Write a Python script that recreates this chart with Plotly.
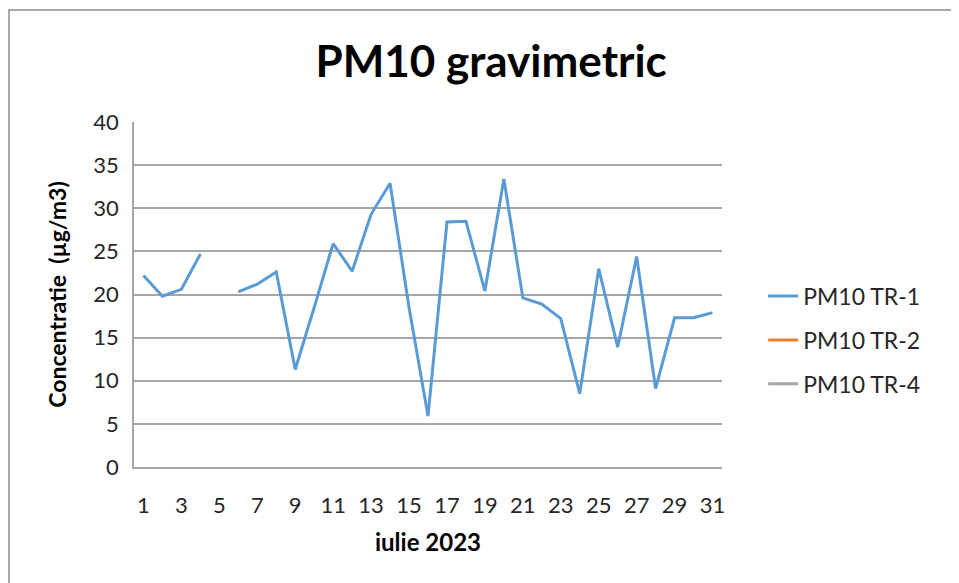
import plotly.graph_objects as go

# Days of July 2023
days = list(range(1, 32))

# PM10 TR-1 daily concentrations (µg/m3); day 5 missing
pm10_tr1 = [22.2, 19.8, 20.6, 24.7, None, 20.3, 21.2, 22.6, 11.3, 18.5,
            25.9, 22.7, 29.3, 32.9, 18.5, 5.9, 28.4, 28.5, 20.4, 33.4,
            19.6, 18.9, 17.2, 8.5, 23.0, 13.9, 24.4, 9.1, 17.3, 17.3, 17.9]

# TR-2 and TR-4 have no data this month (legend entries only)
pm10_tr2 = [None] * 31
pm10_tr4 = [None] * 31

x_ticks = list(range(1, 32, 2))
y_ticks = [0, 5, 10, 15, 20, 25, 30, 35, 40]

FONT = "Lato"

fig = go.Figure()

series = [
    ("PM10 TR-1", pm10_tr1, "#5B9BD5"),
    ("PM10 TR-2", pm10_tr2, "#ED7D31"),
    ("PM10 TR-4", pm10_tr4, "#A5A5A5"),
]

for name, values, color in series:
    fig.add_trace(go.Scatter(
        x=days,
        y=values,
        name=name,
        mode="lines",
        line=dict(color=color, width=3),
        connectgaps=False,
        legendgroup=name,
        showlegend=True,
    ))

# page body has an 8px margin, so the figure is sized to fit inside the window
fig.update_layout(
    width=951,
    height=575,
    margin=dict(l=126, r=237, t=114, b=116),
    paper_bgcolor="white",
    plot_bgcolor="white",
    font=dict(family=FONT, size=22, color="#262626"),
    title=dict(
        text="<b>PM10 gravimetric</b>",
        x=0.508, xanchor="center",
        y=0.906, yanchor="middle",
        font=dict(family=FONT, size=44, color="black"),
    ),
    legend=dict(
        x=1.07, xanchor="left",
        y=0.368, yanchor="middle",
        font=dict(family=FONT, size=23, color="#262626"),
        tracegroupgap=11,
        bgcolor="rgba(0,0,0,0)",
    ),
    showlegend=True,
)

fig.update_xaxes(
    range=[0.5, 31.5],
    tickvals=x_ticks,
    ticktext=[str(t) for t in x_ticks],
    showgrid=False,
    showline=True,
    linecolor="#A6A6A6",
    linewidth=1.5,
    ticks="",
    ticklabelstandoff=18,
    zeroline=False,
    title=dict(text="<b>iulie 2023</b>", font=dict(family=FONT, size=24, color="black"), standoff=17),
)

fig.update_yaxes(
    range=[0, 40],
    tickvals=y_ticks,
    showgrid=True,
    gridcolor="#A6A6A6",
    gridwidth=1.5,
    showline=True,
    linecolor="#A6A6A6",
    linewidth=1.5,
    ticks="",
    ticklabelstandoff=9,
    zeroline=False,
    title=dict(text="<b>Concentratie  (µg/m3)</b>", font=dict(family=FONT, size=23, color="black"), standoff=20),
)

# outer chart frame (only its top and left edges fall inside the window)
fig.add_shape(
    type="rect", xref="paper", yref="paper",
    x0=(1 - 126) / 588, x1=(1000 - 126) / 588,
    y0=(459 - 620) / 345, y1=(459 - 2) / 345,
    line=dict(color="#8C8C8C", width=1.5),
    layer="below",
)

fig.write_html("out.html")
